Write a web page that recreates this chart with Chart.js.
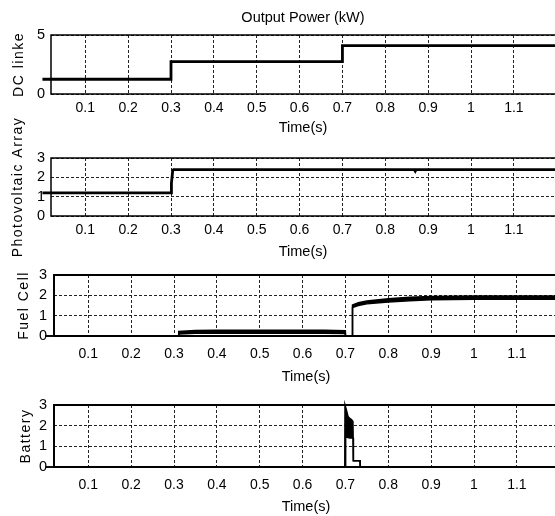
<!DOCTYPE html>
<html>
<head>
<meta charset="utf-8">
<script src="https://cdn.jsdelivr.net/npm/chart.js@4/dist/chart.umd.min.js"></script>
<style>
  html, body { margin: 0; padding: 0; background: #fff; width: 555px; height: 516px; overflow: hidden; }
  .panel { position: absolute; left: 0; }
  canvas { display: block; }
</style>
</head>
<body>
<div class="panel" id="p1"><canvas id="c1"></canvas></div>
<div class="panel" id="p2"><canvas id="c2"></canvas></div>
<div class="panel" id="p3"><canvas id="c3"></canvas></div>
<div class="panel" id="p4"><canvas id="c4"></canvas></div>
<script>
// ---------------- DATA ----------------
const chartTitle = 'Output Power (kW)';
const xTitle = 'Time(s)';
const xTicks = [0.1, 0.2, 0.3, 0.4, 0.5, 0.6, 0.7, 0.8, 0.9, 1.0, 1.1];
const xMin = 0.02;
const xMax = 1.196;

// DC link power
const dcTime  = [0, 0.3, 0.3, 0.7, 0.7, 1.2];
const dcPower = [1.25, 1.25, 2.75, 2.75, 4.1, 4.1];
const dcTicks = [0, 5];

// Photovoltaic array power
const pvTime  = [0, 0.3, 0.301, 0.304, 0.306, 0.868, 0.870, 0.872, 1.2];
const pvPower = [1.2, 1.2, 1.7, 2.35, 2.4, 2.4, 2.32, 2.4, 2.4];
const pvTicks = [0, 1, 2, 3];

// Fuel cell power (noisy band: lower and upper envelope)
const fcTime = [0, 0.31, 0.311, 0.35, 0.4, 0.45, 0.5, 0.55, 0.6, 0.65, 0.6995, 0.7, 0.716, 0.7165, 0.73, 0.75, 0.8, 0.85, 0.9, 0.95, 1.0, 1.1, 1.2];
const fcLow  = [0, 0, 0.1, 0.13, 0.14, 0.13, 0.14, 0.13, 0.14, 0.13, 0.12, 0, 0, 1.4, 1.5, 1.58, 1.67, 1.73, 1.78, 1.8, 1.81, 1.81, 1.81];
const fcHigh = [0, 0, 0.22, 0.27, 0.28, 0.28, 0.28, 0.28, 0.28, 0.28, 0.26, 0, 0, 1.52, 1.64, 1.72, 1.83, 1.9, 1.94, 1.96, 1.97, 1.97, 1.97];
const fcTicks = [0, 1, 2, 3];

// Battery power (transient around 0.7 s: lower and upper envelope)
const batTime = [0, 0.6985, 0.699, 0.7005, 0.703, 0.706, 0.71, 0.714, 0.7175, 0.718, 0.7185, 0.734, 0.7345, 1.2];
const batHigh = [0, 0, 3, 3, 2.7, 2.45, 2.35, 2.3, 2.2, 1.4, 0.3, 0.3, 0, 0];
const batLow  = [0, 0, 0, 1.45, 1.45, 1.42, 1.4, 1.4, 1.4, 1.4, 0.3, 0.3, 0, 0];
const batTicks = [0, 1, 2, 3];

// ---------------- RENDERING ----------------
Chart.defaults.color = '#000';
Chart.defaults.font.family = '"Liberation Sans", Arial, sans-serif';
Chart.defaults.font.size = 14;

function pts(t, v) { return t.map((x, i) => ({ x: x, y: v[i] })); }

const framePlugin = {
  id: 'frame',
  afterDatasetsDraw(chart, args, opts) {
    const { ctx, chartArea: { left, top, right, bottom } } = chart;
    ctx.save();
    ctx.strokeStyle = '#000';
    ctx.lineWidth = opts.width || 1.5;
    ctx.beginPath();
    ctx.moveTo(right + 4, top);
    ctx.lineTo(left, top);
    ctx.lineTo(left, bottom);
    ctx.lineTo(right + 4, bottom);
    ctx.stroke();
    ctx.restore();
  }
};

const spacingPlugin = {
  id: 'titleSpacing',
  beforeDraw(chart) {
    const s = chart.scales.y;
    if (s && !s._spaced) {
      const orig = s.drawTitle;
      s.drawTitle = function () {
        const c = this.ctx;
        const prev = c.letterSpacing;
        c.letterSpacing = '1.5px';
        orig.call(this);
        c.letterSpacing = prev || '0px';
      };
      s._spaced = true;
    }
  }
};

function makePanel(cfg) {
  const div = document.getElementById(cfg.div);
  div.style.top = cfg.canvasTop + 'px';
  const canvas = document.getElementById(cfg.canvas);
  const h = cfg.padTop + cfg.plotH + cfg.axisH;
  canvas.width = cfg.width; canvas.height = h;
  canvas.style.width = cfg.width + 'px'; canvas.style.height = h + 'px';

  const datasets = cfg.series.map(s => ({
    data: s.data,
    borderColor: '#000',
    backgroundColor: '#000',
    borderWidth: s.width,
    pointRadius: 0,
    tension: 0,
    fill: s.fill || false,
    clip: false
  }));

  return new Chart(canvas, {
    type: 'line',
    data: { datasets },
    plugins: [framePlugin, spacingPlugin],
    options: {
      responsive: false,
      animation: false,
      devicePixelRatio: 1,
      layout: { padding: { top: cfg.title ? 0 : cfg.padTop, left: 0, right: 0, bottom: 0 } },
      plugins: {
        legend: { display: false },
        tooltip: { enabled: false },
        frame: { width: cfg.frameW },
        title: cfg.title ? {
          display: true, text: cfg.title, fullSize: false,
          font: { size: 14.5, weight: 'normal' },
          padding: { top: 9, bottom: cfg.padTop - 9 - 17.4 }
        } : { display: false }
      },
      scales: {
        x: {
          type: 'linear', min: xMin, max: xMax,
          afterBuildTicks: (sc) => { sc.ticks = xTicks.map(v => ({ value: v })); },
          afterFit: (sc) => { sc.height = cfg.axisH; },
          ticks: {
            padding: cfg.xTickPad, maxRotation: 0, autoSkip: false,
            callback: (v) => String(+v.toFixed(1))
          },
          grid: { color: '#222', lineWidth: 1, drawTicks: false },
          border: { display: false, dash: [3, 2] },
          title: { display: true, text: xTitle, font: { size: 14.5 }, padding: { top: 0, bottom: cfg.xTitlePad } }
        },
        y: {
          type: 'linear', min: cfg.yTicks[0], max: cfg.yTicks[cfg.yTicks.length - 1],
          afterBuildTicks: (sc) => { sc.ticks = cfg.yTicks.map(v => ({ value: v })); },
          afterFit: (sc) => { sc.width = cfg.left; },
          ticks: { padding: cfg.yTickPad, autoSkip: false, font: { size: 14.5 } },
          grid: { color: '#222', lineWidth: 1, drawTicks: false },
          border: { display: false, dash: [3, 2] },
          title: { display: true, text: cfg.yTitle, font: { size: 14 }, padding: { top: cfg.yTitlePad, bottom: 0 } }
        }
      }
    }
  });
}

makePanel({
  div: 'p1', canvas: 'c1', canvasTop: 0, width: 555, padTop: 35, plotH: 59, axisH: 44,
  left: 51, xTickPad: 6, xTitlePad: 1, yTickPad: 6, yTitlePad: 11, frameW: 1.5,
  title: chartTitle, yTitle: 'DC linke', yTicks: dcTicks,
  series: [{ data: pts(dcTime, dcPower), width: 2.8 }]
});

makePanel({
  div: 'p2', canvas: 'c2', canvasTop: 100, width: 555, padTop: 58, plotH: 58, axisH: 46,
  left: 51, xTickPad: 6, xTitlePad: 1, yTickPad: 6, yTitlePad: 10, frameW: 1.5,
  yTitle: 'Photovoltaic Array', yTicks: pvTicks,
  series: [{ data: pts(pvTime, pvPower), width: 2.8 }]
});

makePanel({
  div: 'p3', canvas: 'c3', canvasTop: 220, width: 558, padTop: 55, plotH: 61, axisH: 51,
  left: 54, xTickPad: 10, xTitlePad: 1, yTickPad: 7, yTitlePad: 16, frameW: 2,
  yTitle: 'Fuel Cell', yTicks: fcTicks,
  series: [
    { data: pts(fcTime, fcLow), width: 1.5 },
    { data: pts(fcTime, fcHigh), width: 1.5, fill: '-1' }
  ]
});

makePanel({
  div: 'p4', canvas: 'c4', canvasTop: 350, width: 558, padTop: 55, plotH: 62, axisH: 50,
  left: 54, xTickPad: 10, xTitlePad: 1, yTickPad: 7, yTitlePad: 18, frameW: 2,
  yTitle: 'Battery', yTicks: batTicks,
  series: [
    { data: pts(batTime, batLow), width: 1.5 },
    { data: pts(batTime, batHigh), width: 1.5, fill: '-1' }
  ]
});
</script>
</body>
</html>
